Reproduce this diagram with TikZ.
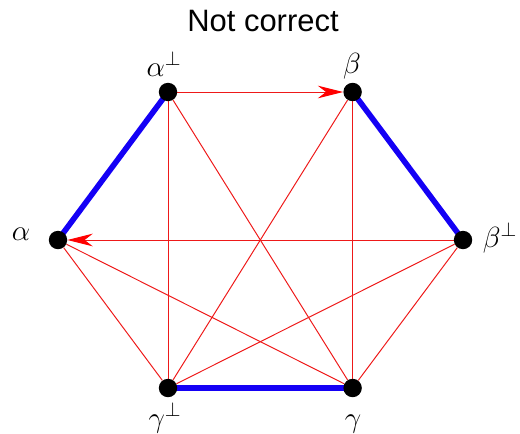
\documentclass[tikz,border=0pt]{standalone}
\usepackage{fontspec}
\setsansfont{Liberation Sans}
\usepackage{tikz}
\usetikzlibrary{arrows.meta, backgrounds}
\definecolor{lienrouge}{RGB}{238,25,25}
\definecolor{pairebleu}{RGB}{20,0,245}

\tikzset{
  sommet/.style={circle, fill=black, inner sep=0pt, minimum size=0.46cm},
  nom/.style={anchor=base, inner sep=0pt, font=\fontsize{20}{24}\selectfont},
  lien/.style={draw=lienrouge, line width=0.7pt},
  fleche/.style={lien, -{Stealth[length=18pt, width=9pt, color=red]}},
  paire/.style={draw=pairebleu, line width=4pt}
}

\begin{document}
\begin{tikzpicture}[x=0.025cm, y=-0.025cm]
  \useasboundingbox (0,0) rectangle (520,434);
  \node[font=\sffamily\fontsize{22}{26}\selectfont] (titre) at (263,21) {Not correct};

  % les six sommets
  \node[sommet] (a) at (58,240) {};
  \node[sommet] (ap) at (168,92) {};
  \node[sommet] (b) at (352.6,92) {};
  \node[sommet] (bp) at (463,240) {};
  \node[sommet] (g) at (352.6,388) {};
  \node[sommet] (gp) at (168,388) {};

  % leurs noms
  \node[nom] (na) at (21,240) {$\alpha$};
  \node[nom] (nap) at (164,76) {$\alpha^{\perp}$};
  \node[nom] (nb) at (352,73) {$\beta$};
  \node[nom] (nbp) at (500,247) {$\beta^{\perp}$};
  \node[nom] (ng) at (353,427) {$\gamma$};
  \node[nom] (ngp) at (165,427) {$\gamma^{\perp}$};

  \begin{scope}[on background layer]
    % liens rouges
    \draw[lien] (ap) -- (gp);
    \draw[lien] (ap) -- (g);
    \draw[lien] (b) -- (g);
    \draw[lien] (b) -- (gp);
    \draw[lien] (a) -- (gp);
    \draw[lien] (a) -- (g);
    \draw[lien] (bp) -- (gp);
    \draw[lien] (bp) -- (g);
    \draw[fleche] (ap) -- (b);
    \draw[fleche] (bp) -- (a);

    % paires en bleu
    \draw[paire] (a.center) -- (ap.center);
    \draw[paire] (b.center) -- (bp.center);
    \draw[paire] (gp.center) -- (g.center);
  \end{scope}
\end{tikzpicture}
\end{document}
